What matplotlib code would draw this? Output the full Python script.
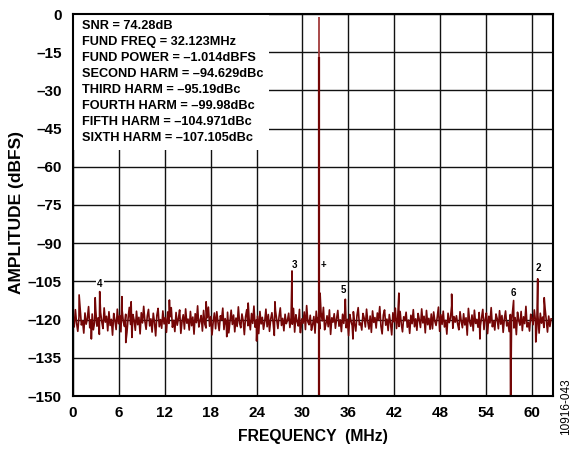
# FFT plot of ADC output, 32.123 MHz input

import matplotlib
matplotlib.use('Agg')
import matplotlib.pyplot as plt
import matplotlib.patches as patches
import numpy as np

plt.rcParams['font.family'] = ['Liberation Sans', 'DejaVu Sans']
plt.rcParams['font.weight'] = 'bold'

# noise floor (dBFS), evenly spaced bins from 0 to Nyquist
noise_db = [
    -118.2, -122.9, -116.1, -121.4, -124.6, -119.0, -115.7, -122.1, -120.5, -125.3, -117.4, -121.8, -119.6, -114.9, -123.2, -120.1, -117.8, -124.0, -121.2, -116.5,
    -122.6, -119.3, -125.8, -117.1, -120.8, -123.5, -115.4, -121.0, -118.7, -124.4, -116.9, -122.3, -119.9, -126.1, -117.6, -120.4, -123.9, -115.9, -121.6, -118.4,
    -124.8, -116.3, -120.9, -122.7, -117.9, -125.1, -119.4, -115.2, -121.9, -123.1, -118.0, -120.2, -124.2, -116.7, -122.0, -119.1, -125.6, -117.3, -121.3, -114.8,
    -120.6, -123.8, -118.6, -116.0, -122.5, -119.7, -124.9, -117.5, -121.1, -126.4, -118.3, -115.6, -122.8, -120.0, -123.4, -116.6, -121.7, -119.2, -125.0, -117.0,
    -121.5, -118.9, -115.3, -123.0, -120.3, -124.7, -117.2, -122.2, -119.5, -116.2, -125.4, -120.7, -118.1, -123.7, -115.8, -121.4, -119.8, -124.1, -116.8, -122.4,
    -119.0, -125.7, -117.7, -121.2, -114.6, -122.9, -120.5, -118.4, -124.5, -116.4, -121.8, -123.3, -119.3, -115.1, -122.6, -118.8, -126.0, -120.9, -117.4, -123.6,
    -116.9, -121.0, -124.3, -118.5, -120.1, -115.5, -123.9, -119.6, -122.1, -117.1, -125.2, -120.6, -116.3, -121.9, -118.2, -124.8, -119.4, -122.7, -115.0, -121.3,
    -123.2, -117.8, -120.4, -125.9, -118.9, -116.1, -122.4, -119.9, -124.0, -117.6, -121.5, -114.7, -123.0, -120.2, -118.6, -125.5, -116.8, -121.7, -119.1, -123.8,
    -120.8, -115.9, -122.8, -118.0, -124.6, -119.8, -117.3, -121.1, -126.2, -116.5, -120.0, -123.5, -118.7, -115.4, -122.3, -119.5, -124.4, -117.9, -121.6, -120.3,
    -117.5, -123.1, -119.2, -121.8, -115.6, -124.9, -118.1, -120.7, -122.5, -116.0, -125.1, -119.7, -121.4, -117.0, -123.9, -114.5, -120.9, -122.0, -118.3, -124.2,
    -122.0, -118.8, -125.3, -116.7, -121.2, -119.0, -123.6, -117.2, -120.5, -115.2, -124.0, -121.9, -118.5, -122.8, -116.2, -125.8, -119.3, -121.0, -117.7, -123.4,
    -119.6, -116.4, -122.6, -120.1, -124.7, -117.9, -121.5, -115.7, -123.2, -119.9, -126.3, -118.0, -120.6, -122.4, -116.9, -121.7, -124.5, -118.4, -115.3, -122.1,
    -121.3, -124.1, -117.6, -119.4, -122.9, -115.9, -120.8, -123.7, -118.6, -125.0, -116.6, -121.1, -119.2, -123.3, -117.4, -120.2, -114.9, -122.5, -125.6, -118.2,
    -116.2, -122.2, -119.8, -124.3, -118.0, -121.4, -126.0, -117.3, -120.9, -115.5, -123.5, -119.1, -122.7, -116.8, -121.8, -124.8, -118.9, -120.4, -117.1, -123.0,
    -120.2, -125.4, -118.3, -121.6, -116.1, -122.8, -119.7, -124.2, -117.6, -120.0, -123.1, -115.8, -121.3, -118.7, -125.2, -116.4, -122.0, -119.5, -123.8, -117.8,
    -123.6, -117.0, -120.7, -122.3, -119.0, -115.1, -124.6, -118.1, -121.9, -116.7, -122.9, -120.3, -125.7, -117.5, -121.2, -119.4, -114.6, -123.4, -118.8, -121.0,
    -118.5, -121.7, -124.0, -116.9, -120.6, -123.2, -117.7, -122.1, -119.3, -126.1, -115.6, -120.8, -122.6, -118.2, -124.4, -116.3, -121.5, -119.9, -123.0, -117.2,
    -122.4, -119.1, -116.0, -123.9, -120.0, -117.4, -125.5, -118.7, -121.3, -115.3, -122.8, -120.5, -124.1, -117.8, -119.6, -123.6, -116.5, -121.8, -118.4, -125.0,
    -119.8, -116.6, -122.5, -120.9, -124.7, -118.0, -121.1, -115.9, -123.3, -119.2, -125.9, -117.1, -120.4, -122.2, -116.8, -124.3, -118.9, -121.6, -114.8, -122.9,
    -121.1, -124.5, -117.9, -119.5, -122.0, -116.2, -120.7, -123.7, -118.3, -125.3, -117.5, -121.4, -119.0, -123.1, -115.7, -120.3, -124.9, -118.6, -122.7, -119.7,
]
nyquist_mhz = 62.5

# harmonics (alias frequencies)
harm_labels = ['2', '3', '4', '5', '6']
harm_freq = [60.75, 28.63, 3.49, 35.6, 57.6]
harm_db = [-104.0, -100.9, -109.0, -112.0, -112.5]

# other spurs / dips in the floor
spur_freq = [0.8, 2.9, 6.4, 7.6, 12.6, 17.4, 22.9, 26.4, 32.3, 42.6, 49.5, 61.6,
             2.4, 6.9, 7.7, 20.1, 24.0, 29.7, 36.6, 53.2, 60.5, 57.2]
spur_db = [-110.3, -111.4, -111.0, -113.0, -112.3, -113.0, -113.5, -113.0, -109.6, -109.6, -110.0, -111.4,
           -127.6, -129.0, -127.0, -126.7, -128.4, -125.0, -127.6, -127.6, -128.8, -160.0]

# fundamental
fund_freq = 32.123
fund_db = -1.014
fund_skirt_db = -17.0

info_lines = [
    'SNR = 74.28dB',
    'FUND FREQ = 32.123MHz',
    'FUND POWER = \u20131.014dBFS',
    'SECOND HARM = \u201394.629dBc',
    'THIRD HARM = \u201395.19dBc',
    'FOURTH HARM = \u201399.98dBc',
    'FIFTH HARM = \u2013104.971dBc',
    'SIXTH HARM = \u2013107.105dBc',
]

# label spots for harmonic numbers (data coords)
label_text = ['+', '2', '3', '4', '5', '6']
label_x = [32.8, 60.9, 29.0, 3.5, 35.3, 57.6]
label_y = [-98.5, -99.7, -98.5, -106.0, -108.4, -109.5]

# build spectrum
freq = np.linspace(0, nyquist_mhz, len(noise_db))
all_f = np.concatenate([freq, harm_freq, spur_freq])
all_db = np.concatenate([noise_db, harm_db, spur_db])
order = np.argsort(all_f)
all_f = all_f[order]
all_db = all_db[order]

fig = plt.figure(figsize=(5.74, 4.51), dpi=100)
ax = fig.add_axes([73 / 574, 55 / 451, 480 / 574, 382 / 451])

red = '#740606'
ax.plot(all_f, all_db, color=red, lw=1.2, zorder=3)
ax.vlines(fund_freq, -150, fund_skirt_db, color=red, lw=1.6, zorder=3)
ax.vlines(fund_freq, fund_skirt_db, fund_db, color='#a33a3a', lw=1.3, zorder=3)

# white panel behind the text block
ax.add_patch(patches.Rectangle((0, -53.4), 25.6, 53.4, facecolor='white',
                               edgecolor='none', zorder=2))

ax.set_xlim(0, 62.75)
ax.set_ylim(-150, 0)
xt = np.arange(0, 61, 6)
yt = np.arange(0, -151, -15)
ax.set_xticks(xt)
ax.set_yticks(yt)
ax.set_xticklabels([str(v) for v in xt])
ax.set_yticklabels(['0' if v == 0 else '\u2013%d' % -v for v in yt])
ax.tick_params(length=0, labelsize=11)
ax.tick_params(axis='x', pad=7)
ax.tick_params(axis='y', pad=8)
ax.grid(True, color='#111111', lw=1.0, zorder=1)
ax.set_axisbelow(True)
for s in ax.spines.values():
    s.set_linewidth(1.5)
    s.set_zorder(5)

ax.set_xlabel('FREQUENCY  (MHz)', fontsize=11.3, fontweight='bold')
ax.xaxis.set_label_coords(0.5, 1 - (437 - 14) / 382)
ax.set_ylabel('AMPLITUDE (dBFS)', fontsize=12.5, fontweight='bold')
ax.yaxis.set_label_coords((17 - 73) / 480, 1 - (212 - 14) / 382)
ax.xaxis.label.set_va('center')
ax.yaxis.label.set_va('center')

# text block
for i, line in enumerate(info_lines):
    ax.text(0.018, 0.969 - i * 0.0418, line, transform=ax.transAxes,
            fontsize=9.2, fontweight='bold', va='center', ha='left', zorder=6)

for t, x, y in zip(label_text, label_x, label_y):
    bg = dict(facecolor='white', edgecolor='none', pad=1) if t == '4' else None
    ax.text(x, y, t, fontsize=7, fontweight='bold', ha='center', va='center',
            bbox=bg, zorder=6)

fig.text(566 / 574, 1 - 407 / 451, '10916-043', rotation=90, fontsize=8.5,
         fontweight='normal', ha='center', va='center')

fig.savefig('out.png', dpi=100)
